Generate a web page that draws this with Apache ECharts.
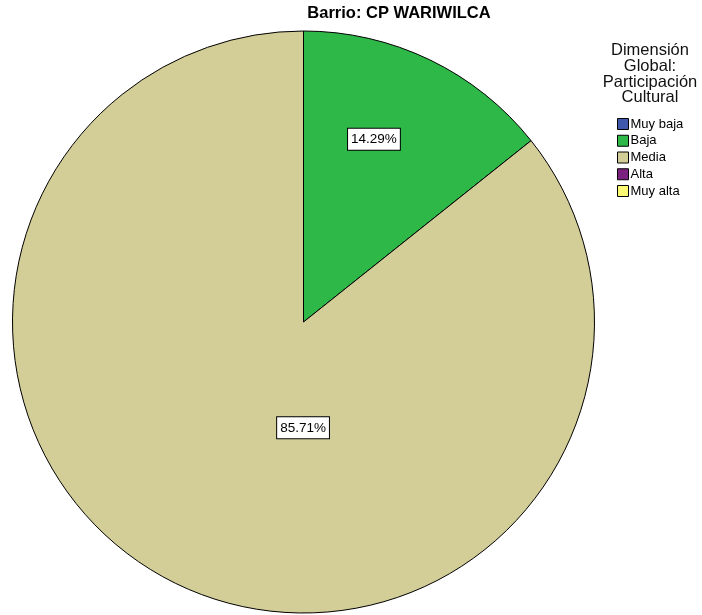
<!DOCTYPE html>
<html><head><meta charset="utf-8">
<script src="https://cdn.jsdelivr.net/npm/echarts@6/dist/echarts.min.js"></script>
<style>html,body{margin:0;padding:0;background:#fff}#c{width:702px;height:615px}</style>
</head><body><div id="c"></div>
<script>
const categories = ['Muy baja', 'Baja', 'Media', 'Alta', 'Muy alta'];
const values = [0, 14.29, 85.71, 0, 0];
const colors = ['#3E58AC', '#2EB848', '#D3CE97', '#7B2281', '#FBF873'];
const labelOffsets = [[0,0],[6,-49],[64,-28],[0,0],[0,0]];
const chartTitle = 'Barrio: CP WARIWILCA';
const legendTitle = 'Dimensión\nGlobal:\nParticipación\nCultural';

const font = 'Liberation Sans, Arial, sans-serif';
const chart = echarts.init(document.getElementById('c'), null, {renderer: 'canvas'});
chart.setOption({
  backgroundColor: '#fff',
  animation: false,
  title: [
    {text: chartTitle, left: 394, top: 0, textAlign: 'center',
     textStyle: {fontFamily: font, fontSize: 16.5, fontWeight: 'bold', color: '#000'}},
    {text: legendTitle, left: 645, top: 37.5, textAlign: 'center',
     textStyle: {fontFamily: font, fontSize: 16.5, fontWeight: 'normal', color: '#111', lineHeight: 15.8}}
  ],
  legend: {
    orient: 'vertical', left: 617, top: 117.5, padding: 0, itemWidth: 11, itemHeight: 11, itemGap: 3.75,
    icon: 'rect', selectedMode: false,
    data: categories,
    itemStyle: {borderColor: '#000', borderWidth: 1},
    textStyle: {fontFamily: font, fontSize: 13, lineHeight: 12, color: '#000', padding: [0,0,0,-3]}
  },
  series: [{
    type: 'pie', center: [303.5, 322], radius: [0, 291], startAngle: 90, clockwise: true,
    stillShowZeroSum: false,
    emphasis: {disabled: true},
    labelLine: {show: false},
    data: categories.map((n, i) => ({
      name: n, value: values[i],
      itemStyle: {color: colors[i], borderColor: '#000', borderWidth: values[i] > 0 ? 1 : 0},
      label: {
        show: values[i] > 0, position: 'inside',
        formatter: values[i].toFixed(2) + '%',
        offset: labelOffsets[i],
        fontFamily: font, fontSize: 13.5, color: '#000',
        backgroundColor: '#fff', borderColor: '#000', borderWidth: 1,
        padding: [4, 3, 3, 3]
      }
    }))
  }]
});
</script></body></html>
